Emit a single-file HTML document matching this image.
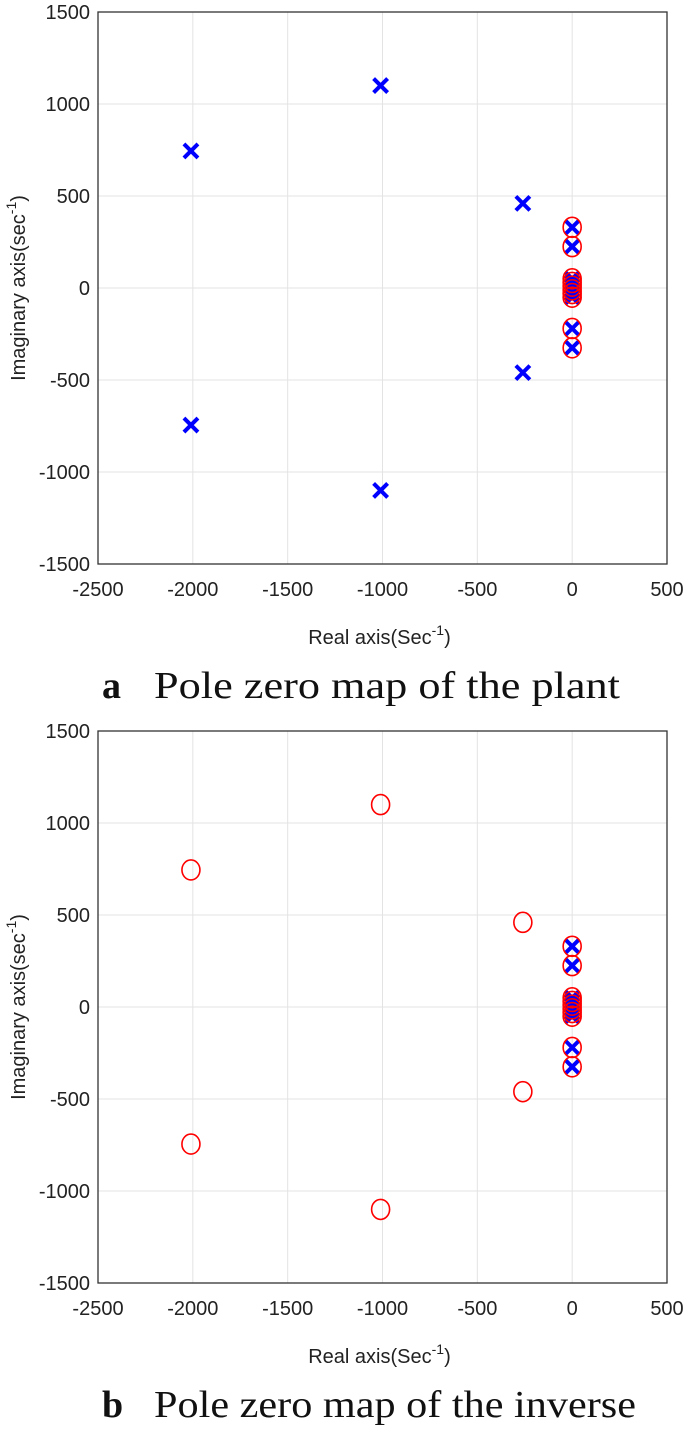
<!DOCTYPE html>
<html><head><meta charset="utf-8"><style>
body{margin:0;background:#fff}
svg{display:block}
.t{font-family:"Liberation Sans",sans-serif;font-size:20px;fill:#222}
.cap{font-family:"Liberation Serif",serif;font-size:38px;fill:#111}
</style></head><body>
<svg id="s" width="685" height="1429" xmlns="http://www.w3.org/2000/svg"></svg>
<script>
const xTicks=[-2500,-2000,-1500,-1000,-500,0,500];
const yTicks=[1500,1000,500,0,-500,-1000,-1500];
const farPolesRe=[-2010,-1010,-260,-2010,-1010,-260];
const farPolesIm=[745,1100,460,-745,-1100,-460];
const nearRe=[0,0,0,0,0,0,0,0,0,0];
const nearIm=[330,225,50,30,10,-10,-30,-50,-220,-325];
const NS="http://www.w3.org/2000/svg";
const svg=document.getElementById('s');
function el(t,a,p){const e=document.createElementNS(NS,t);for(const k in a)e.setAttribute(k,a[k]);(p||svg).appendChild(e);return e;}
function panel(top,id,capLetter,capText,polesFar,capW){
  const L=98,R=667,T=top,B=top+552;
  const X=v=>L+(v+2500)/3000*(R-L);
  const Y=v=>T+(1500-v)/3000*(B-T);
  const g=el('g',{});
  
  
  xTicks.forEach(v=>{const l=el('line',{x1:X(v),x2:X(v),y1:T,y2:B,stroke:'#e3e3e3','stroke-width':1},g);
    const t=el('text',{x:X(v),y:B+32,'text-anchor':'middle',class:'t'},g);t.textContent=v;});
  yTicks.forEach(v=>{const l=el('line',{x1:L,x2:R,y1:Y(v),y2:Y(v),stroke:'#e3e3e3','stroke-width':1},g);
    const t=el('text',{x:L-8,y:Y(v)+7,'text-anchor':'end',class:'t'},g);t.textContent=v;});
  const r=el('rect',{x:L,y:T,width:R-L,height:B-T,fill:'none',stroke:'#333','stroke-width':1.3},g);
  const xl=el('text',{x:(L+R)/2-3,y:B+80,'text-anchor':'middle',class:'t','font-size':'21'},g);
  xl.innerHTML='Real axis(Sec<tspan dy="-9" font-size="14">-1</tspan><tspan dy="9">)</tspan>';
  
  const yl=el('text',{transform:`translate(25,${(T+B)/2}) rotate(-90)`,'text-anchor':'middle',class:'t','font-size':'21'},g);
  yl.innerHTML='Imaginary axis(sec<tspan dy="-9" font-size="14">-1</tspan><tspan dy="9">)</tspan>';
  
  const cross=(re,im)=>{const x=X(re),y=Y(im),d=7;const p=el('path',{d:`M${x-d} ${y-d}L${x+d} ${y+d}M${x-d} ${y+d}L${x+d} ${y-d}`,stroke:'#0000ff','stroke-width':4,fill:'none'},g);};
  const circ=(re,im)=>{const c=el('ellipse',{cx:X(re),cy:Y(im),rx:9,ry:10,stroke:'#ff0000','stroke-width':1.6,fill:'none'},g);};
  farPolesRe.forEach((re,i)=>polesFar?cross(re,farPolesIm[i]):circ(re,farPolesIm[i]));
  nearRe.forEach((re,i)=>cross(re,nearIm[i]));
  nearRe.forEach((re,i)=>circ(re,nearIm[i]));
  const c=el('text',{x:102,y:B+134,class:'cap'},g);
  c.innerHTML=`<tspan font-weight="bold">${capLetter}</tspan>`;
  
  const c2=el('text',{x:154,y:B+134,class:'cap',textLength:capW,lengthAdjust:'spacingAndGlyphs'},g);
  c2.textContent=capText;
  
}
panel(12,'plant-pole-zero-map','a','Pole zero map of the plant',true,466);
panel(731,'inverse-pole-zero-map','b','Pole zero map of the inverse',false,482);
</script>
</body></html>
